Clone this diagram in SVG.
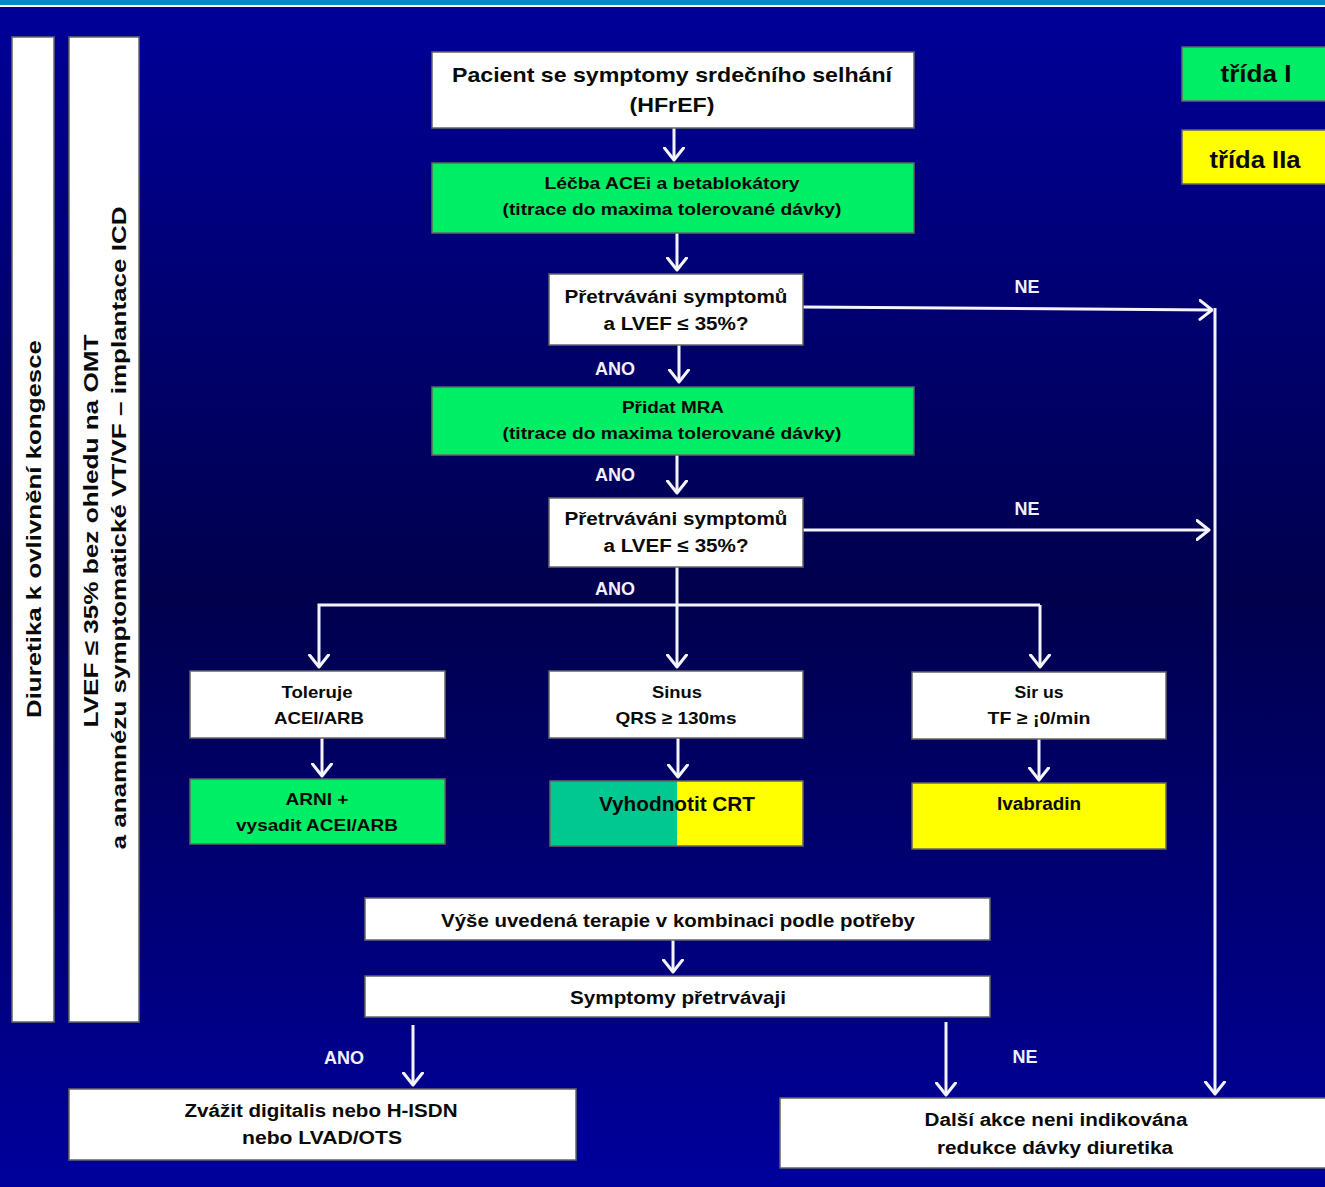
<svg xmlns="http://www.w3.org/2000/svg" width="1325" height="1187" viewBox="0 0 1325 1187">
<defs>
<linearGradient id="bg" x1="0" y1="0" x2="0" y2="1">
<stop offset="0" stop-color="#000099"/>
<stop offset="0.5" stop-color="#00004c"/>
<stop offset="1" stop-color="#00009c"/>
</linearGradient>
<marker id="ah" viewBox="0 0 15 22" refX="13.5" refY="11" markerWidth="15" markerHeight="22" markerUnits="userSpaceOnUse" orient="auto">
<path d="M1.5,1.5 L13.5,11 L1.5,20.5" fill="none" stroke="#f4f4ff" stroke-width="3" stroke-linecap="round" stroke-linejoin="round"/>
</marker>
<style>
.box{stroke:#666;stroke-width:1.5}
.w{fill:#ffffff}
.g{fill:#00ee66}
.y{fill:#ffff00}
.t{font-family:"Liberation Sans",Arial,sans-serif;font-weight:bold;fill:#0a0a0a;text-anchor:middle}
.lbl{font-family:"Liberation Sans",Arial,sans-serif;font-weight:bold;fill:#f0f0ff;text-anchor:middle;font-size:18px}
.c{fill:none;stroke:#f4f4ff;stroke-width:3}
</style>
</defs>
<rect width="1325" height="1187" fill="url(#bg)"/>
<rect x="0" y="0" width="1325" height="5" fill="#0088cc"/>
<rect x="0" y="5" width="1325" height="2" fill="#ffffff"/>

<g id="side-diuretika">
<rect class="box w" x="12" y="37" width="42" height="985"/>
<text class="t" font-size="21" transform="translate(41,529) rotate(-90)" textLength="378" lengthAdjust="spacingAndGlyphs">Diuretika k ovlivnění kongesce</text>
</g>
<g id="side-icd">
<rect class="box w" x="69" y="37" width="70" height="985"/>
<text class="t" font-size="21" transform="translate(98,531) rotate(-90)" textLength="393" lengthAdjust="spacingAndGlyphs">LVEF ≤ 35% bez ohledu na OMT</text>
<text class="t" font-size="21" transform="translate(126,528) rotate(-90)" textLength="643" lengthAdjust="spacingAndGlyphs">a anamnézu symptomatické VT/VF – implantace ICD</text>
</g>

<g id="legend-1">
<rect class="box g" x="1182" y="47" width="150" height="54"/>
<text class="t" font-size="24" x="1256" y="82" textLength="71" lengthAdjust="spacingAndGlyphs">třída I</text>
</g>
<g id="legend-2a">
<rect class="box y" x="1182" y="130" width="150" height="54"/>
<text class="t" font-size="24" x="1255" y="168" textLength="91" lengthAdjust="spacingAndGlyphs">třída IIa</text>
</g>

<g id="connectors">
<path class="c" d="M674,128 V160" marker-end="url(#ah)"/>
<path class="c" d="M677,233 V270" marker-end="url(#ah)"/>
<path class="c" d="M803,307 L1212,310" marker-end="url(#ah)"/>
<path class="c" d="M1215,308 V1094" marker-end="url(#ah)"/>
<path class="c" d="M679,345 V382" marker-end="url(#ah)"/>
<path class="c" d="M677,455 V493" marker-end="url(#ah)"/>
<path class="c" d="M803,530 H1209" marker-end="url(#ah)"/>
<path class="c" d="M677,567 V667" marker-end="url(#ah)"/>
<path class="c" d="M1040,605 H319 V667" marker-end="url(#ah)"/>
<path class="c" d="M1040,605 V667" marker-end="url(#ah)"/>
<path class="c" d="M322,738 V776" marker-end="url(#ah)"/>
<path class="c" d="M678,738 V777" marker-end="url(#ah)"/>
<path class="c" d="M1039,739 V780" marker-end="url(#ah)"/>
<path class="c" d="M673,940 V972" marker-end="url(#ah)"/>
<path class="c" d="M413,1025 V1085" marker-end="url(#ah)"/>
<path class="c" d="M946,1022 V1095" marker-end="url(#ah)"/>
<text class="lbl" x="1027" y="293">NE</text>
<text class="lbl" x="1027" y="515">NE</text>
<text class="lbl" x="1025" y="1063">NE</text>
<text class="lbl" x="615" y="375">ANO</text>
<text class="lbl" x="615" y="481">ANO</text>
<text class="lbl" x="615" y="595">ANO</text>
<text class="lbl" x="344" y="1064">ANO</text>
</g>

<g id="n-pacient">
<rect class="box w" x="432" y="52" width="482" height="76"/>
<text class="t" font-size="21" x="672" y="82" textLength="440" lengthAdjust="spacingAndGlyphs">Pacient se symptomy srdečního selhání</text>
<text class="t" font-size="21" x="672" y="112" textLength="85" lengthAdjust="spacingAndGlyphs">(HFrEF)</text>
</g>
<g id="n-lecba">
<rect class="box g" x="432" y="163" width="482" height="70"/>
<text class="t" font-size="17" x="672" y="189" textLength="255" lengthAdjust="spacingAndGlyphs">Léčba ACEi a betablokátory</text>
<text class="t" font-size="17" x="672" y="215" textLength="339" lengthAdjust="spacingAndGlyphs">(titrace do maxima tolerované dávky)</text>
</g>
<g id="n-q1">
<rect class="box w" x="549" y="274" width="254" height="71"/>
<text class="t" font-size="18" x="676" y="303" textLength="223" lengthAdjust="spacingAndGlyphs">Přetrváváni symptomů</text>
<text class="t" font-size="18" x="676" y="330" textLength="145" lengthAdjust="spacingAndGlyphs">a LVEF ≤ 35%?</text>
</g>
<g id="n-mra">
<rect class="box g" x="432" y="387" width="482" height="68"/>
<text class="t" font-size="17" x="673" y="413" textLength="102" lengthAdjust="spacingAndGlyphs">Přidat MRA</text>
<text class="t" font-size="17" x="672" y="439" textLength="339" lengthAdjust="spacingAndGlyphs">(titrace do maxima tolerované dávky)</text>
</g>
<g id="n-q2">
<rect class="box w" x="549" y="498" width="254" height="69"/>
<text class="t" font-size="18" x="676" y="525" textLength="223" lengthAdjust="spacingAndGlyphs">Přetrváváni symptomů</text>
<text class="t" font-size="18" x="676" y="552" textLength="145" lengthAdjust="spacingAndGlyphs">a LVEF ≤ 35%?</text>
</g>
<g id="n-toleruje">
<rect class="box w" x="190" y="671" width="255" height="67"/>
<text class="t" font-size="17" x="317" y="698" textLength="71" lengthAdjust="spacingAndGlyphs">Toleruje</text>
<text class="t" font-size="17" x="319" y="724" textLength="90" lengthAdjust="spacingAndGlyphs">ACEI/ARB</text>
</g>
<g id="n-arni">
<rect class="box g" x="190" y="779" width="255" height="65"/>
<text class="t" font-size="17" x="317" y="805" textLength="63" lengthAdjust="spacingAndGlyphs">ARNI +</text>
<text class="t" font-size="17" x="317" y="831" textLength="162" lengthAdjust="spacingAndGlyphs">vysadit ACEI/ARB</text>
</g>
<g id="n-sinus-qrs">
<rect class="box w" x="549" y="671" width="254" height="67"/>
<text class="t" font-size="17" x="677" y="698" textLength="50" lengthAdjust="spacingAndGlyphs">Sinus</text>
<text class="t" font-size="17" x="676" y="724" textLength="121" lengthAdjust="spacingAndGlyphs">QRS ≥ 130ms</text>
</g>
<g id="n-crt">
<rect x="550" y="781" width="127" height="65" fill="#00c890"/>
<rect x="677" y="781" width="126" height="65" fill="#ffff00"/>
<rect x="550" y="781" width="253" height="65" fill="none" stroke="#666" stroke-width="1.5"/>
<text class="t" font-size="20" x="677" y="811" textLength="156" lengthAdjust="spacingAndGlyphs">Vyhodnotit CRT</text>
</g>
<g id="n-sinus-tf">
<rect class="box w" x="912" y="672" width="254" height="67"/>
<text class="t" font-size="17" x="1039" y="698" textLength="49" lengthAdjust="spacingAndGlyphs">Sir us</text>
<text class="t" font-size="17" x="1039" y="724" textLength="103" lengthAdjust="spacingAndGlyphs">TF ≥ ¡0/min</text>
</g>
<g id="n-ivabradin">
<rect class="box y" x="912" y="783" width="254" height="66"/>
<text class="t" font-size="18" x="1039" y="810" textLength="84" lengthAdjust="spacingAndGlyphs">Ivabradin</text>
</g>
<g id="n-kombinace">
<rect class="box w" x="365" y="898" width="625" height="42"/>
<text class="t" font-size="19" x="678" y="927" textLength="474" lengthAdjust="spacingAndGlyphs">Výše uvedená terapie v kombinaci podle potřeby</text>
</g>
<g id="n-pretrvavaji">
<rect class="box w" x="365" y="976" width="625" height="41"/>
<text class="t" font-size="19" x="678" y="1004" textLength="216" lengthAdjust="spacingAndGlyphs">Symptomy přetrvávaji</text>
</g>
<g id="n-digitalis">
<rect class="box w" x="69" y="1089" width="507" height="71"/>
<text class="t" font-size="18" x="321" y="1117" textLength="273" lengthAdjust="spacingAndGlyphs">Zvážit digitalis nebo H-ISDN</text>
<text class="t" font-size="18" x="322" y="1144" textLength="160" lengthAdjust="spacingAndGlyphs">nebo LVAD/OTS</text>
</g>
<g id="n-dalsi">
<rect class="box w" x="780" y="1098" width="560" height="70"/>
<text class="t" font-size="18" x="1056" y="1126" textLength="263" lengthAdjust="spacingAndGlyphs">Další akce neni indikována</text>
<text class="t" font-size="18" x="1055" y="1154" textLength="236" lengthAdjust="spacingAndGlyphs">redukce dávky diuretika</text>
</g>
</svg>
